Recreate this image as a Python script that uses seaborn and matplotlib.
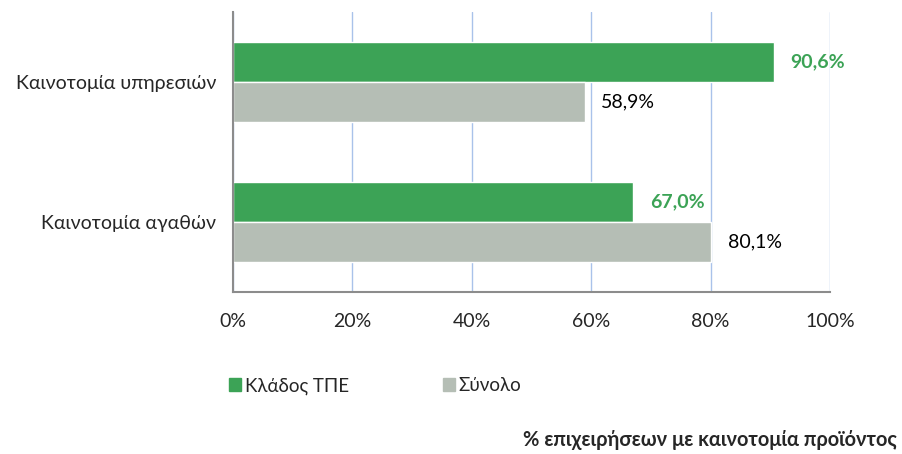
import pandas as pd
import numpy as np
import matplotlib.pyplot as plt
import seaborn as sns

# Data
categories = ['Καινοτομία υπηρεσιών', 'Καινοτομία αγαθών']
series = ['Κλάδος ΤΠΕ', 'Σύνολο']
ict_values = [90.6, 67.0]
total_values = [58.9, 80.1]
ticks = [0, 20, 40, 60, 80, 100]

colors = {'Κλάδος ΤΠΕ': '#3ca356', 'Σύνολο': '#b5beb5'}

df = pd.DataFrame({
    'category': categories * 2,
    'series': [series[0]] * 2 + [series[1]] * 2,
    'value': ict_values + total_values,
})

sns.set_style('white')
plt.rcParams['font.family'] = ['Lato', 'DejaVu Sans']

fig = plt.figure(figsize=(9.02, 4.54), dpi=100)
ax = fig.add_axes([233 / 902, 1 - 292 / 454, (830 - 233) / 902, (292 - 12) / 454])

sns.barplot(data=df, y='category', x='value', hue='series', order=categories,
            hue_order=series, palette=colors, width=0.57, orient='h',
            saturation=1, ax=ax, legend=False)

# Value labels
for container, s in zip(ax.containers, series):
    labels = [f'{v:.1f}%'.replace('.', ',') for v in container.datavalues]
    if s == 'Κλάδος ΤΠΕ':
        ax.bar_label(container, labels=labels, padding=12, color='#3ca356',
                     fontsize=14, fontweight='bold')
    else:
        ax.bar_label(container, labels=labels, padding=12, color='black',
                     fontsize=14)

ax.set_xlim(0, 100)
ax.set_ylim(1.5, -0.5)
ax.set_xticks(ticks)
ax.set_xticklabels([f'{t}%' for t in ticks], fontsize=14)
ax.tick_params(axis='x', pad=15, length=0)
ax.tick_params(axis='y', pad=12, length=0, labelsize=14)
ax.set_xlabel('')
ax.set_ylabel('')
ax.xaxis.grid(True, color='#a9c2ea', linewidth=1)
ax.set_axisbelow(True)
for side in ['top', 'right']:
    ax.spines[side].set_visible(False)
for side in ['left', 'bottom']:
    ax.spines[side].set_color('#8c8c8c')
    ax.spines[side].set_linewidth(1.5)

# Legend
handles = [plt.Rectangle((0, 0), 1, 1, color=colors[s]) for s in series]
fig.legend(handles, series, loc='center left', bbox_to_anchor=(212 / 902, 1 - 386 / 454),
           ncol=2, frameon=False, fontsize=13.5, handlelength=0.65, handleheight=0.65,
           handletextpad=0.2, columnspacing=5.0)

fig.text(897 / 902, 1 - 440 / 454, '% επιχειρήσεων με καινοτομία προϊόντος',
         ha='right', va='center', fontsize=14.4, fontweight='bold')

fig.savefig('out.png', dpi=100)
